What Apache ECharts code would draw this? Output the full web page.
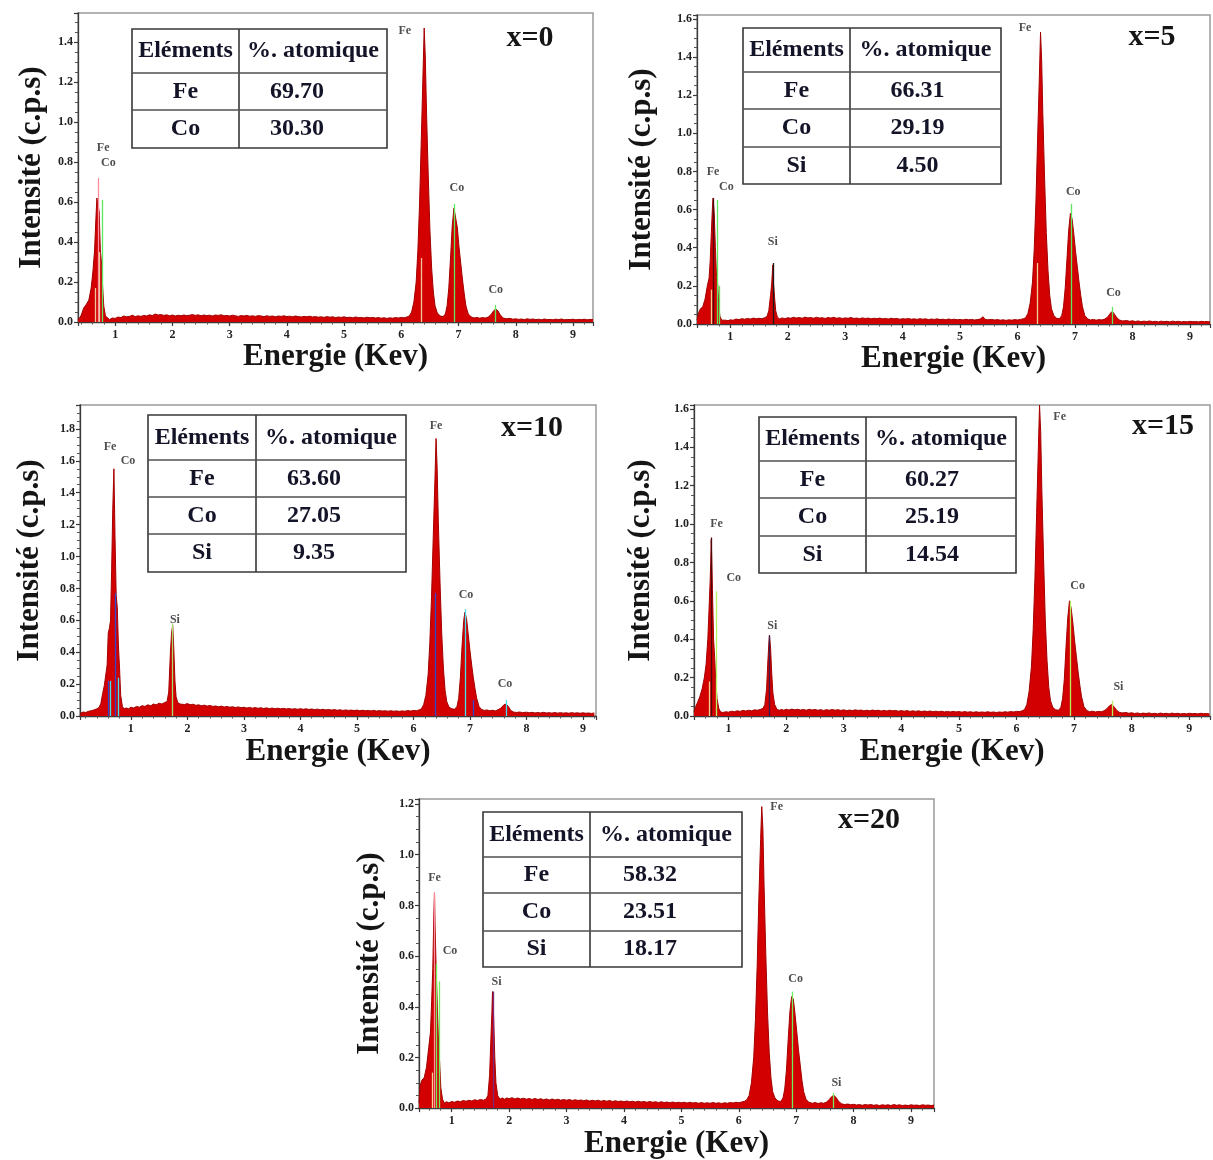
<!DOCTYPE html>
<html>
<head>
<meta charset="utf-8">
<title>Spectres EDS</title>
<script src="https://cdn.jsdelivr.net/npm/echarts@6/dist/echarts.min.js"></script>
<style>
html,body{margin:0;padding:0;background:#fff;}
#chart{width:1213px;height:1160px;}
</style>
</head>
<body>
<div id="chart"></div>
<script>
// ---------- Spectra: [energy (keV), intensity (c.p.s)] ----------
const spectrumX0 = [[0.35,0.01],[0.40,0.03],[0.45,0.07],[0.50,0.09],[0.54,0.11],[0.58,0.17],[0.61,0.25],[0.64,0.36],[0.66,0.5],[0.68,0.62],[0.70,0.63],[0.72,0.55],[0.74,0.36],[0.76,0.3],[0.78,0.18],[0.80,0.08],[0.83,0.03],[0.86,0.02],[0.90,0.012],[0.95,0.02],[1.00,0.018],[1.05,0.025],[1.10,0.022],[1.15,0.03],[1.20,0.026],[1.25,0.028],[1.30,0.034],[1.35,0.027],[1.40,0.031],[1.45,0.028],[1.50,0.033],[1.55,0.03],[1.60,0.036],[1.65,0.032],[1.70,0.04],[1.75,0.035],[1.80,0.037],[1.85,0.033],[1.90,0.036],[1.95,0.031],[2.00,0.035],[2.05,0.03],[2.10,0.034],[2.15,0.031],[2.20,0.035],[2.25,0.032],[2.30,0.034],[2.35,0.037],[2.40,0.033],[2.45,0.036],[2.50,0.031],[2.55,0.035],[2.60,0.032],[2.65,0.034],[2.70,0.03],[2.75,0.035],[2.80,0.033],[2.85,0.036],[2.90,0.031],[2.95,0.033],[3.00,0.03],[3.05,0.034],[3.10,0.031],[3.15,0.028],[3.20,0.032],[3.25,0.03],[3.30,0.033],[3.35,0.029],[3.40,0.031],[3.45,0.028],[3.50,0.032],[3.55,0.03],[3.60,0.027],[3.65,0.031],[3.70,0.028],[3.75,0.03],[3.80,0.026],[3.85,0.03],[3.90,0.028],[3.95,0.031],[4.00,0.027],[4.05,0.029],[4.10,0.026],[4.15,0.03],[4.20,0.027],[4.25,0.025],[4.30,0.028],[4.35,0.026],[4.40,0.029],[4.45,0.025],[4.50,0.027],[4.55,0.024],[4.60,0.026],[4.65,0.023],[4.70,0.027],[4.75,0.024],[4.80,0.026],[4.85,0.022],[4.90,0.025],[4.95,0.023],[5.00,0.026],[5.05,0.022],[5.10,0.024],[5.15,0.021],[5.20,0.025],[5.25,0.022],[5.30,0.023],[5.35,0.02],[5.40,0.024],[5.45,0.021],[5.50,0.023],[5.55,0.02],[5.60,0.022],[5.65,0.019],[5.70,0.021],[5.75,0.018],[5.80,0.021],[5.85,0.019],[5.90,0.022],[5.95,0.02],[6.00,0.023],[6.05,0.021],[6.10,0.025],[6.14,0.03],[6.18,0.05],[6.22,0.1],[6.26,0.2],[6.29,0.36],[6.32,0.6],[6.35,0.92],[6.38,1.25],[6.40,1.47],[6.42,1.32],[6.44,1.06],[6.47,0.74],[6.50,0.46],[6.53,0.27],[6.56,0.15],[6.59,0.08],[6.63,0.045],[6.68,0.03],[6.73,0.027],[6.77,0.04],[6.80,0.08],[6.83,0.17],[6.86,0.32],[6.89,0.48],[6.92,0.57],[6.95,0.56],[6.98,0.47],[7.01,0.37],[7.04,0.29],[7.07,0.21],[7.10,0.14],[7.13,0.08],[7.17,0.04],[7.22,0.026],[7.27,0.02],[7.32,0.023],[7.37,0.019],[7.42,0.022],[7.47,0.02],[7.52,0.025],[7.57,0.038],[7.61,0.055],[7.65,0.065],[7.69,0.055],[7.73,0.035],[7.78,0.02],[7.83,0.016],[7.90,0.018],[7.95,0.014],[8.00,0.016],[8.05,0.013],[8.10,0.015],[8.15,0.012],[8.20,0.016],[8.25,0.013],[8.30,0.015],[8.35,0.012],[8.40,0.014],[8.45,0.011],[8.50,0.015],[8.55,0.012],[8.60,0.013],[8.65,0.011],[8.70,0.014],[8.75,0.012],[8.80,0.015],[8.85,0.011],[8.90,0.013],[8.95,0.012],[9.00,0.014],[9.05,0.011],[9.10,0.013],[9.15,0.012],[9.20,0.014],[9.25,0.011],[9.30,0.013],[9.35,0.012]];

const spectrumX5 = [[0.42,0.02],[0.45,0.06],[0.48,0.08],[0.52,0.09],[0.56,0.13],[0.60,0.2],[0.63,0.24],[0.65,0.33],[0.67,0.48],[0.69,0.62],[0.70,0.66],[0.72,0.58],[0.74,0.4],[0.76,0.25],[0.78,0.21],[0.80,0.09],[0.82,0.04],[0.85,0.02],[0.88,0.012],[0.92,0.02],[0.96,0.017],[1.00,0.022],[1.05,0.02],[1.10,0.026],[1.15,0.023],[1.20,0.028],[1.25,0.025],[1.30,0.029],[1.35,0.026],[1.40,0.031],[1.45,0.027],[1.50,0.03],[1.55,0.028],[1.60,0.033],[1.64,0.04],[1.67,0.07],[1.70,0.15],[1.72,0.21],[1.74,0.31],[1.75,0.22],[1.77,0.14],[1.79,0.07],[1.82,0.035],[1.86,0.026],[1.90,0.032],[1.95,0.028],[2.00,0.033],[2.05,0.03],[2.10,0.035],[2.15,0.031],[2.20,0.034],[2.25,0.03],[2.30,0.036],[2.35,0.032],[2.40,0.034],[2.45,0.03],[2.50,0.035],[2.55,0.031],[2.60,0.033],[2.65,0.029],[2.70,0.034],[2.75,0.031],[2.80,0.035],[2.85,0.03],[2.90,0.033],[2.95,0.029],[3.00,0.032],[3.05,0.03],[3.10,0.034],[3.15,0.029],[3.20,0.031],[3.25,0.028],[3.30,0.032],[3.35,0.029],[3.40,0.031],[3.45,0.027],[3.50,0.03],[3.55,0.028],[3.60,0.031],[3.65,0.027],[3.70,0.029],[3.75,0.026],[3.80,0.03],[3.85,0.027],[3.90,0.029],[3.95,0.025],[4.00,0.028],[4.05,0.026],[4.10,0.029],[4.15,0.025],[4.20,0.027],[4.25,0.024],[4.30,0.028],[4.35,0.025],[4.40,0.027],[4.45,0.023],[4.50,0.026],[4.55,0.024],[4.60,0.027],[4.65,0.023],[4.70,0.025],[4.75,0.022],[4.80,0.026],[4.85,0.023],[4.90,0.025],[4.95,0.022],[5.00,0.024],[5.05,0.021],[5.10,0.025],[5.15,0.022],[5.20,0.024],[5.25,0.021],[5.30,0.023],[5.35,0.026],[5.40,0.038],[5.43,0.025],[5.48,0.022],[5.55,0.024],[5.60,0.021],[5.65,0.023],[5.70,0.02],[5.75,0.022],[5.80,0.019],[5.85,0.022],[5.90,0.02],[5.95,0.023],[6.00,0.021],[6.05,0.024],[6.10,0.027],[6.14,0.033],[6.18,0.055],[6.22,0.11],[6.26,0.22],[6.29,0.39],[6.32,0.64],[6.35,0.98],[6.38,1.3],[6.40,1.53],[6.42,1.38],[6.44,1.1],[6.47,0.77],[6.50,0.48],[6.53,0.28],[6.56,0.15],[6.59,0.08],[6.63,0.045],[6.68,0.03],[6.73,0.028],[6.77,0.045],[6.80,0.09],[6.83,0.19],[6.86,0.34],[6.89,0.49],[6.92,0.58],[6.95,0.55],[6.98,0.47],[7.01,0.38],[7.04,0.3],[7.07,0.22],[7.10,0.15],[7.13,0.09],[7.17,0.045],[7.22,0.027],[7.27,0.021],[7.32,0.024],[7.37,0.02],[7.42,0.023],[7.47,0.021],[7.52,0.026],[7.57,0.037],[7.61,0.055],[7.65,0.066],[7.69,0.05],[7.73,0.032],[7.78,0.02],[7.83,0.016],[7.90,0.018],[7.95,0.014],[8.00,0.017],[8.05,0.013],[8.10,0.016],[8.15,0.012],[8.20,0.015],[8.25,0.013],[8.30,0.016],[8.35,0.012],[8.40,0.014],[8.45,0.011],[8.50,0.015],[8.55,0.012],[8.60,0.014],[8.65,0.011],[8.70,0.015],[8.75,0.012],[8.80,0.014],[8.85,0.011],[8.90,0.013],[8.95,0.011],[9.00,0.014],[9.05,0.012],[9.10,0.013],[9.15,0.011],[9.20,0.014],[9.25,0.012],[9.30,0.013],[9.35,0.011]];

const spectrumX10 = [[0.10,0.0],[0.12,0.02],[0.16,0.025],[0.20,0.022],[0.24,0.028],[0.28,0.032],[0.32,0.035],[0.36,0.04],[0.40,0.045],[0.44,0.055],[0.47,0.08],[0.50,0.14],[0.53,0.19],[0.56,0.2],[0.58,0.32],[0.60,0.52],[0.62,0.55],[0.64,0.6],[0.66,0.92],[0.68,1.3],[0.70,1.55],[0.72,1.12],[0.74,0.76],[0.76,0.68],[0.78,0.44],[0.80,0.3],[0.82,0.13],[0.85,0.06],[0.88,0.045],[0.92,0.05],[0.96,0.045],[1.00,0.055],[1.05,0.05],[1.10,0.06],[1.15,0.055],[1.20,0.065],[1.25,0.06],[1.30,0.07],[1.35,0.064],[1.40,0.075],[1.45,0.07],[1.50,0.08],[1.55,0.075],[1.60,0.085],[1.64,0.09],[1.67,0.15],[1.70,0.4],[1.72,0.52],[1.74,0.57],[1.76,0.42],[1.78,0.22],[1.80,0.12],[1.83,0.085],[1.87,0.075],[1.90,0.08],[1.95,0.072],[2.00,0.078],[2.05,0.07],[2.10,0.074],[2.15,0.067],[2.20,0.07],[2.25,0.064],[2.30,0.068],[2.35,0.062],[2.40,0.066],[2.45,0.06],[2.50,0.063],[2.55,0.058],[2.60,0.062],[2.65,0.056],[2.70,0.06],[2.75,0.055],[2.80,0.058],[2.85,0.053],[2.90,0.057],[2.95,0.052],[3.00,0.055],[3.05,0.05],[3.10,0.054],[3.15,0.049],[3.20,0.053],[3.25,0.048],[3.30,0.052],[3.35,0.047],[3.40,0.051],[3.45,0.046],[3.50,0.05],[3.55,0.045],[3.60,0.049],[3.65,0.045],[3.70,0.048],[3.75,0.044],[3.80,0.047],[3.85,0.043],[3.90,0.046],[3.95,0.042],[4.00,0.046],[4.05,0.042],[4.10,0.045],[4.15,0.041],[4.20,0.044],[4.25,0.04],[4.30,0.043],[4.35,0.039],[4.40,0.042],[4.45,0.038],[4.50,0.041],[4.55,0.037],[4.60,0.04],[4.65,0.036],[4.70,0.039],[4.75,0.035],[4.80,0.038],[4.85,0.035],[4.90,0.037],[4.95,0.034],[5.00,0.037],[5.05,0.033],[5.10,0.036],[5.15,0.033],[5.20,0.035],[5.25,0.032],[5.30,0.035],[5.35,0.031],[5.40,0.034],[5.45,0.031],[5.50,0.033],[5.55,0.03],[5.60,0.033],[5.65,0.03],[5.70,0.032],[5.75,0.029],[5.80,0.032],[5.85,0.03],[5.90,0.034],[5.95,0.031],[6.00,0.035],[6.05,0.033],[6.10,0.038],[6.14,0.045],[6.18,0.07],[6.22,0.13],[6.26,0.26],[6.29,0.46],[6.32,0.75],[6.35,1.12],[6.38,1.48],[6.40,1.74],[6.42,1.55],[6.44,1.22],[6.47,0.84],[6.50,0.52],[6.53,0.3],[6.56,0.16],[6.59,0.09],[6.63,0.055],[6.68,0.045],[6.73,0.042],[6.77,0.06],[6.80,0.11],[6.83,0.24],[6.86,0.44],[6.89,0.6],[6.91,0.65],[6.94,0.61],[6.97,0.51],[7.00,0.41],[7.03,0.32],[7.06,0.24],[7.09,0.17],[7.12,0.11],[7.16,0.06],[7.20,0.042],[7.25,0.035],[7.30,0.038],[7.35,0.033],[7.40,0.036],[7.45,0.032],[7.50,0.04],[7.55,0.05],[7.60,0.07],[7.64,0.075],[7.68,0.06],[7.72,0.035],[7.77,0.025],[7.82,0.022],[7.88,0.025],[7.93,0.021],[8.00,0.024],[8.05,0.02],[8.10,0.023],[8.15,0.019],[8.20,0.022],[8.25,0.019],[8.30,0.023],[8.35,0.019],[8.40,0.021],[8.45,0.018],[8.50,0.022],[8.55,0.018],[8.60,0.021],[8.65,0.018],[8.70,0.02],[8.75,0.017],[8.80,0.021],[8.85,0.018],[8.90,0.02],[8.95,0.017],[9.00,0.02],[9.05,0.017],[9.10,0.019],[9.15,0.016],[9.20,0.019]];

const spectrumX15 = [[0.40,0.02],[0.43,0.05],[0.46,0.07],[0.50,0.1],[0.54,0.14],[0.58,0.2],[0.61,0.27],[0.64,0.4],[0.66,0.55],[0.68,0.7],[0.69,0.8],[0.70,0.92],[0.71,0.8],[0.72,0.66],[0.74,0.4],[0.76,0.3],[0.78,0.17],[0.80,0.09],[0.83,0.04],[0.86,0.022],[0.90,0.018],[0.95,0.022],[1.00,0.02],[1.05,0.025],[1.10,0.022],[1.15,0.027],[1.20,0.024],[1.25,0.029],[1.30,0.026],[1.35,0.03],[1.40,0.027],[1.45,0.032],[1.50,0.03],[1.55,0.034],[1.60,0.04],[1.63,0.06],[1.66,0.14],[1.68,0.27],[1.70,0.38],[1.71,0.42],[1.73,0.35],[1.75,0.22],[1.77,0.12],[1.80,0.06],[1.84,0.035],[1.88,0.03],[1.92,0.034],[1.96,0.03],[2.00,0.035],[2.05,0.031],[2.10,0.036],[2.15,0.032],[2.20,0.035],[2.25,0.031],[2.30,0.034],[2.35,0.03],[2.40,0.035],[2.45,0.031],[2.50,0.034],[2.55,0.03],[2.60,0.033],[2.65,0.029],[2.70,0.033],[2.75,0.03],[2.80,0.034],[2.85,0.03],[2.90,0.033],[2.95,0.029],[3.00,0.032],[3.05,0.028],[3.10,0.031],[3.15,0.028],[3.20,0.032],[3.25,0.029],[3.30,0.031],[3.35,0.027],[3.40,0.03],[3.45,0.027],[3.50,0.031],[3.55,0.028],[3.60,0.03],[3.65,0.026],[3.70,0.029],[3.75,0.026],[3.80,0.03],[3.85,0.027],[3.90,0.029],[3.95,0.025],[4.00,0.028],[4.05,0.025],[4.10,0.028],[4.15,0.024],[4.20,0.027],[4.25,0.024],[4.30,0.027],[4.35,0.023],[4.40,0.026],[4.45,0.023],[4.50,0.026],[4.55,0.022],[4.60,0.025],[4.65,0.022],[4.70,0.025],[4.75,0.021],[4.80,0.024],[4.85,0.021],[4.90,0.024],[4.95,0.021],[5.00,0.023],[5.05,0.02],[5.10,0.023],[5.15,0.02],[5.20,0.022],[5.25,0.019],[5.30,0.022],[5.35,0.019],[5.40,0.021],[5.45,0.019],[5.50,0.022],[5.55,0.019],[5.60,0.021],[5.65,0.018],[5.70,0.021],[5.75,0.019],[5.80,0.022],[5.85,0.02],[5.90,0.023],[5.95,0.021],[6.00,0.024],[6.05,0.023],[6.10,0.027],[6.14,0.034],[6.18,0.06],[6.22,0.13],[6.26,0.26],[6.29,0.45],[6.32,0.72],[6.35,1.06],[6.38,1.4],[6.40,1.62],[6.42,1.48],[6.44,1.18],[6.47,0.82],[6.50,0.5],[6.53,0.29],[6.56,0.15],[6.59,0.08],[6.63,0.045],[6.68,0.032],[6.73,0.03],[6.77,0.045],[6.80,0.09],[6.83,0.19],[6.86,0.36],[6.89,0.51],[6.92,0.6],[6.95,0.56],[6.98,0.48],[7.01,0.39],[7.04,0.31],[7.07,0.23],[7.10,0.16],[7.13,0.1],[7.17,0.05],[7.22,0.029],[7.27,0.022],[7.32,0.025],[7.37,0.021],[7.42,0.024],[7.47,0.022],[7.52,0.027],[7.57,0.038],[7.61,0.052],[7.65,0.06],[7.69,0.05],[7.73,0.033],[7.78,0.02],[7.83,0.016],[7.90,0.018],[7.95,0.014],[8.00,0.017],[8.05,0.013],[8.10,0.016],[8.15,0.012],[8.20,0.015],[8.25,0.013],[8.30,0.016],[8.35,0.012],[8.40,0.014],[8.45,0.011],[8.50,0.015],[8.55,0.012],[8.60,0.014],[8.65,0.011],[8.70,0.015],[8.75,0.012],[8.80,0.014],[8.85,0.011],[8.90,0.013],[8.95,0.011],[9.00,0.014],[9.05,0.012],[9.10,0.013],[9.15,0.011],[9.20,0.014],[9.25,0.012],[9.30,0.013],[9.35,0.011]];

const spectrumX20 = [[0.43,0.02],[0.45,0.09],[0.48,0.11],[0.52,0.12],[0.56,0.16],[0.60,0.24],[0.63,0.3],[0.65,0.42],[0.67,0.55],[0.69,0.78],[0.70,0.85],[0.71,0.72],[0.73,0.54],[0.75,0.4],[0.77,0.26],[0.79,0.18],[0.81,0.08],[0.84,0.035],[0.87,0.02],[0.91,0.025],[0.95,0.021],[1.00,0.026],[1.05,0.023],[1.10,0.028],[1.15,0.025],[1.20,0.03],[1.25,0.027],[1.30,0.031],[1.35,0.028],[1.40,0.033],[1.45,0.03],[1.50,0.034],[1.55,0.031],[1.60,0.036],[1.63,0.05],[1.66,0.13],[1.68,0.26],[1.70,0.38],[1.71,0.46],[1.73,0.36],[1.75,0.2],[1.77,0.1],[1.80,0.05],[1.84,0.035],[1.88,0.04],[1.92,0.035],[1.96,0.04],[2.00,0.037],[2.05,0.041],[2.10,0.036],[2.15,0.04],[2.20,0.036],[2.25,0.039],[2.30,0.035],[2.35,0.038],[2.40,0.034],[2.45,0.038],[2.50,0.034],[2.55,0.037],[2.60,0.033],[2.65,0.036],[2.70,0.032],[2.75,0.036],[2.80,0.032],[2.85,0.035],[2.90,0.031],[2.95,0.034],[3.00,0.031],[3.05,0.034],[3.10,0.03],[3.15,0.033],[3.20,0.03],[3.25,0.032],[3.30,0.029],[3.35,0.032],[3.40,0.028],[3.45,0.031],[3.50,0.028],[3.55,0.031],[3.60,0.027],[3.65,0.03],[3.70,0.027],[3.75,0.03],[3.80,0.026],[3.85,0.029],[3.90,0.026],[3.95,0.028],[4.00,0.025],[4.05,0.028],[4.10,0.025],[4.15,0.027],[4.20,0.024],[4.25,0.027],[4.30,0.024],[4.35,0.026],[4.40,0.023],[4.45,0.026],[4.50,0.023],[4.55,0.025],[4.60,0.022],[4.65,0.025],[4.70,0.022],[4.75,0.024],[4.80,0.021],[4.85,0.024],[4.90,0.021],[4.95,0.023],[5.00,0.021],[5.05,0.023],[5.10,0.02],[5.15,0.023],[5.20,0.02],[5.25,0.022],[5.30,0.019],[5.35,0.022],[5.40,0.019],[5.45,0.021],[5.50,0.019],[5.55,0.022],[5.60,0.019],[5.65,0.021],[5.70,0.018],[5.75,0.021],[5.80,0.019],[5.85,0.022],[5.90,0.02],[5.95,0.023],[6.00,0.021],[6.05,0.024],[6.10,0.027],[6.14,0.033],[6.18,0.05],[6.22,0.1],[6.26,0.2],[6.29,0.35],[6.32,0.56],[6.35,0.83],[6.38,1.06],[6.40,1.19],[6.42,1.1],[6.44,0.88],[6.47,0.61],[6.50,0.38],[6.53,0.22],[6.56,0.12],[6.59,0.065],[6.63,0.04],[6.68,0.028],[6.73,0.026],[6.77,0.04],[6.80,0.075],[6.83,0.15],[6.86,0.27],[6.89,0.38],[6.92,0.44],[6.95,0.43],[6.98,0.37],[7.01,0.3],[7.04,0.23],[7.07,0.17],[7.10,0.11],[7.13,0.065],[7.17,0.035],[7.22,0.023],[7.28,0.019],[7.33,0.022],[7.38,0.018],[7.43,0.021],[7.48,0.019],[7.53,0.024],[7.58,0.035],[7.62,0.046],[7.66,0.05],[7.70,0.04],[7.74,0.026],[7.79,0.017],[7.84,0.014],[7.90,0.016],[7.95,0.013],[8.00,0.015],[8.05,0.012],[8.10,0.014],[8.15,0.011],[8.20,0.014],[8.25,0.012],[8.30,0.014],[8.35,0.011],[8.40,0.013],[8.45,0.01],[8.50,0.013],[8.55,0.011],[8.60,0.013],[8.65,0.01],[8.70,0.014],[8.75,0.011],[8.80,0.013],[8.85,0.01],[8.90,0.012],[8.95,0.01],[9.00,0.013],[9.05,0.011],[9.10,0.012],[9.15,0.01],[9.20,0.013],[9.25,0.011],[9.30,0.012],[9.35,0.01],[9.40,0.012]];

// ---------- Line identification markers: [energy, height, line family] ----------
const markersX0  = [[0.65,0.17,'hl'],[0.70,0.72,'Fe'],[0.73,0.35,'hl'],[0.78,0.61,'Co'],[6.34,0.32,'hl'],[6.93,0.59,'Co'],[7.65,0.085,'Co']];
const markersX5  = [[0.67,0.18,'hl'],[0.70,0.66,'Fe'],[0.78,0.65,'Co'],[0.80,0.2,'Co'],[1.74,0.32,'Si'],[6.35,0.32,'hl'],[6.93,0.63,'Co'],[7.65,0.09,'Co']];
const markersX10 = [[0.60,0.22,'Fe'],[0.64,0.22,'Co'],[0.72,0.77,'Fe'],[0.78,0.24,'Co'],[1.74,0.58,'Si'],[6.38,0.77,'Fe'],[6.92,0.67,'Co'],[7.05,0.1,'Fe'],[7.65,0.1,'Co']];
const markersX15 = [[0.67,0.18,'hl'],[0.70,0.93,'Fe'],[0.78,0.65,'Co'],[1.71,0.42,'Si'],[6.94,0.6,'Co'],[7.66,0.08,'Co']];
const markersX20 = [[0.66,0.14,'hl'],[0.70,0.85,'Fe'],[0.73,0.57,'Co'],[0.78,0.5,'Co'],[1.72,0.46,'Si'],[6.93,0.46,'Co'],[7.65,0.06,'Co']];

// ---------- Peak annotations: [energy, intensity, element] ----------
const peakLabelsX0  = [[0.79,0.87,'Fe'],[0.88,0.795,'Co'],[6.06,1.455,'Fe'],[6.97,0.67,'Co'],[7.65,0.16,'Co']];
const peakLabelsX5  = [[0.70,0.80,'Fe'],[0.93,0.72,'Co'],[1.74,0.43,'Si'],[6.13,1.55,'Fe'],[6.97,0.69,'Co'],[7.67,0.163,'Co']];
const peakLabelsX10 = [[0.63,1.69,'Fe'],[0.95,1.60,'Co'],[1.78,0.60,'Si'],[6.40,1.82,'Fe'],[6.93,0.76,'Co'],[7.62,0.20,'Co']];
const peakLabelsX15 = [[0.79,1.00,'Fe'],[1.09,0.72,'Co'],[1.76,0.47,'Si'],[6.75,1.56,'Fe'],[7.06,0.68,'Co'],[7.77,0.15,'Si']];
const peakLabelsX20 = [[0.70,0.91,'Fe'],[0.97,0.62,'Co'],[1.78,0.50,'Si'],[6.66,1.19,'Fe'],[6.99,0.51,'Co'],[7.70,0.10,'Si']];

// ---------- Composition tables ----------
const tableHeader = ['Eléments', '%. atomique'];
const elementsX0  = ['Fe', 'Co'];
const atomicX0    = ['69.70', '30.30'];
const elementsX5  = ['Fe', 'Co', 'Si'];
const atomicX5    = ['66.31', '29.19', '4.50'];
const elementsX10 = ['Fe', 'Co', 'Si'];
const atomicX10   = ['63.60', '27.05', '9.35'];
const elementsX15 = ['Fe', 'Co', 'Si'];
const atomicX15   = ['60.27', '25.19', '14.54'];
const elementsX20 = ['Fe', 'Co', 'Si'];
const atomicX20   = ['58.32', '23.51', '18.17'];

const sampleTags = ['x=0', 'x=5', 'x=10', 'x=15', 'x=20'];
const xAxisTitle = 'Energie (Kev)';
const yAxisTitle = 'Intensité (c.p.s)';

// ---------- Layout and styling ----------
const SERIF = "'Liberation Serif', 'Times New Roman', serif";
const panels = [
  { spec: spectrumX0,  marks: markersX0,  labels: peakLabelsX0,  els: elementsX0,  pct: atomicX0,
    grid: {left: 78, top: 13, width: 515, height: 309}, xMin: 0.35, xMax: 9.35, yMax: 1.545,
    table: {x: 132, y: 29, w: 255, c: 107, rows: [44, 37, 38], numDx: -16}, tag: [530, 38],
    yGap: 31, xGap: 19,
    colors: {Fe: '#ff8c9c', Co: '#5fe85f', Si: '#333333', hl: '#f2c49a'} },
  { spec: spectrumX5,  marks: markersX5,  labels: peakLabelsX5,  els: elementsX5,  pct: atomicX5,
    grid: {left: 697, top: 15, width: 515, height: 309}, xMin: 0.42, xMax: 9.35, yMax: 1.62,
    table: {x: 743, y: 28, w: 258, c: 107, rows: [44, 37, 38, 37], numDx: -8}, tag: [1152, 37],
    yGap: 40, xGap: 18,
    colors: {Fe: '#4a0c0c', Co: '#5fe85f', Si: '#1a1a1a', hl: '#f2cf92'} },
  { spec: spectrumX10, marks: markersX10, labels: peakLabelsX10, els: elementsX10, pct: atomicX10,
    grid: {left: 80, top: 405, width: 516, height: 311}, xMin: 0.10, xMax: 9.23, yMax: 1.95,
    table: {x: 148, y: 415, w: 258, c: 108, rows: [45, 37, 37, 38], numDx: -17}, tag: [532, 428],
    yGap: 35, xGap: 20,
    colors: {Fe: '#3048d0', Co: '#44e0f0', Si: '#a6e070', hl: '#f2cf92'} },
  { spec: spectrumX15, marks: markersX15, labels: peakLabelsX15, els: elementsX15, pct: atomicX15,
    grid: {left: 694, top: 405, width: 518, height: 311}, xMin: 0.40, xMax: 9.36, yMax: 1.62,
    table: {x: 759, y: 417, w: 257, c: 107, rows: [44, 37, 38, 37], numDx: -9}, tag: [1163, 426],
    yGap: 38, xGap: 20,
    colors: {Fe: '#4a0a0a', Co: '#b4f060', Si: '#3a1a4a', hl: '#f2cf92'} },
  { spec: spectrumX20, marks: markersX20, labels: peakLabelsX20, els: elementsX20, pct: atomicX20,
    grid: {left: 419, top: 799, width: 515, height: 312}, xMin: 0.43, xMax: 9.4, yMax: 1.22,
    table: {x: 483, y: 812, w: 259, c: 107, rows: [45, 36, 38, 36], numDx: -16}, tag: [869, 820],
    yGap: 34, xGap: 15,
    colors: {Fe: '#ff8c9c', Co: '#70ee60', Si: '#7a2a7a', hl: '#f2cf92'} }
];

const isMultiple = (v, step) => Math.abs(v / step - Math.round(v / step)) < 1e-6;

const grids = [], xAxes = [], yAxes = [], series = [], graphics = [];

panels.forEach((p, i) => {
  grids.push(Object.assign({ show: true, borderColor: '#9a9a9a', borderWidth: 1.5, backgroundColor: 'transparent' }, p.grid));

  xAxes.push({
    type: 'value', gridIndex: i, min: p.xMin, max: p.xMax, splitNumber: 9,
    axisLine: { show: true, onZero: false, lineStyle: { color: '#3a3a3a', width: 1.3 } },
    axisTick: { show: true, length: 4, lineStyle: { color: '#3a3a3a', width: 1.2 } },
    minorTick: { show: true, splitNumber: 5, length: 2.5, lineStyle: { color: '#555' } },
    splitLine: { show: false },
    axisLabel: {
      margin: 7, color: '#222', fontFamily: SERIF, fontWeight: 'bold', fontSize: 12,
      formatter: v => isMultiple(v, 1) ? String(Math.round(v)) : ''
    },
    name: xAxisTitle, nameLocation: 'middle', nameGap: p.xGap,
    nameTextStyle: { fontFamily: SERIF, fontWeight: 'bold', fontSize: 31, color: '#151515' }
  });

  yAxes.push({
    type: 'value', gridIndex: i, min: 0, max: p.yMax, interval: 0.2,
    axisLine: { show: true, lineStyle: { color: '#3a3a3a', width: 1.3 } },
    axisTick: { show: true, length: 4, lineStyle: { color: '#3a3a3a', width: 1.2 } },
    minorTick: { show: true, splitNumber: 4, length: 3, lineStyle: { color: '#555' } },
    splitLine: { show: false },
    axisLabel: {
      margin: 5, color: '#222', fontFamily: SERIF, fontWeight: 'bold', fontSize: 12,
      formatter: v => isMultiple(v, 0.2) ? v.toFixed(1) : ''
    },
    name: yAxisTitle, nameLocation: 'middle', nameGap: p.yGap,
    nameTextStyle: { fontFamily: SERIF, fontWeight: 'bold', fontSize: 31, color: '#151515' }
  });

  // spectrum as a filled trace, with the line-identification markers on top
  series.push({
    type: 'line', xAxisIndex: i, yAxisIndex: i, data: p.spec,
    symbol: 'none', showSymbol: false, sampling: 'none', smooth: false,
    lineStyle: { color: '#a40000', width: 1 },
    areaStyle: { color: '#d20000', opacity: 1 },
    z: 2,
    markLine: {
      silent: true, symbol: ['none', 'none'], label: { show: false }, animation: false,
      data: p.marks.map(m => [
        { coord: [m[0], 0], lineStyle: { color: p.colors[m[2]], width: 1.3, type: 'solid' } },
        { coord: [m[0], m[1]] }
      ])
    }
  });

  // element names above the peaks
  series.push({
    type: 'scatter', xAxisIndex: i, yAxisIndex: i, symbolSize: 2,
    itemStyle: { color: 'rgba(0,0,0,0)' }, z: 5, silent: true,
    data: p.labels.map(l => ({ value: [l[0], l[1]], name: l[2] })),
    label: {
      show: true, position: 'inside', formatter: '{b}',
      fontFamily: SERIF, fontWeight: 'bold', fontSize: 12, color: '#222'
    }
  });

  // composition table
  const t = p.table;
  const rows = [tableHeader].concat(p.els.map((e, k) => [e, p.pct[k]]));
  const totalH = t.rows.reduce((a, b) => a + b, 0);
  graphics.push({
    type: 'rect', z: 50,
    shape: { x: t.x, y: t.y, width: t.w, height: totalH },
    style: { fill: '#ffffff', stroke: '#383838', lineWidth: 1.6 }
  });
  graphics.push({
    type: 'line', z: 51,
    shape: { x1: t.x + t.c, y1: t.y, x2: t.x + t.c, y2: t.y + totalH },
    style: { stroke: '#383838', lineWidth: 1.6 }
  });
  let yy = t.y;
  rows.forEach((r, k) => {
    const h = t.rows[k];
    if (k > 0) {
      graphics.push({
        type: 'line', z: 51,
        shape: { x1: t.x, y1: yy, x2: t.x + t.w, y2: yy },
        style: { stroke: '#505050', lineWidth: 1.6 }
      });
    }
    const cy = yy + h / 2;
    graphics.push({
      type: 'text', z: 52, x: t.x + t.c / 2, y: cy,
      style: { text: r[0], fontFamily: SERIF, fontWeight: 'bold', fontSize: 24, fill: '#141428',
               textAlign: 'center', textVerticalAlign: 'middle' }
    });
    graphics.push({
      type: 'text', z: 52, x: t.x + t.c + (t.w - t.c) / 2 + (k === 0 ? 0 : t.numDx), y: cy,
      style: { text: r[1], fontFamily: SERIF, fontWeight: 'bold', fontSize: 24, fill: '#141428',
               textAlign: 'center', textVerticalAlign: 'middle' }
    });
    yy += h;
  });

  // sample tag
  graphics.push({
    type: 'text', z: 52, x: p.tag[0], y: p.tag[1],
    style: { text: sampleTags[i], fontFamily: SERIF, fontWeight: 'bold', fontSize: 30, fill: '#151515',
             textAlign: 'center', textVerticalAlign: 'middle' }
  });
});

const chart = echarts.init(document.getElementById('chart'), null, { renderer: 'canvas' });
chart.setOption({
  animation: false,
  backgroundColor: '#ffffff',
  grid: grids,
  xAxis: xAxes,
  yAxis: yAxes,
  series: series,
  graphic: { elements: graphics }
});
</script>
</body>
</html>
